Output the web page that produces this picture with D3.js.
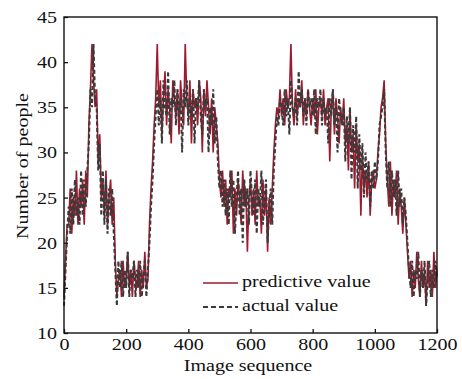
<!DOCTYPE html>
<html>
<head>
<meta charset="utf-8">
<script src="https://cdn.jsdelivr.net/npm/d3@7"></script>
<style>
  body { margin: 0; background: #fff; }
  text { font-family: "Liberation Serif", "Times New Roman", serif; fill: #111; }
</style>
</head>
<body>
<script>
// image sequence step between samples
var seqStep = 5;

// actual number of people (dashed grey), one value every 5 frames from 0 to 1200
var actualValues = [
  13, 17, 21,
  24, 21, 26, 22, 27, 23, 25, 22, 28, 23, 27, 24, 28,
  31, 37, 35, 42, 36,
  35, 28, 31,
  23, 28, 22, 27, 21, 26, 23, 26, 21,
  17, 13, 18,
  15, 18, 14, 17, 15, 19, 14, 17, 16, 18,
  14, 17, 15, 18, 14, 16, 18, 14, 17,
  20, 24, 27, 31, 34,
  37, 33, 36, 31, 38, 35, 34, 39, 32, 36,
  35, 38, 33, 37, 34, 36, 30, 37, 35, 38,
  33, 36, 34, 37, 31, 36, 35, 38, 34, 32,
  37, 35, 36, 30, 35, 33, 37, 31, 34, 29,
  26, 28, 24,
  27, 23, 26, 22, 28, 24, 27, 21, 25, 28,
  23, 26, 20, 27, 24, 26, 22, 28, 25, 23,
  27, 21, 26, 24, 28, 22, 25, 27, 20, 24,
  26,
  22, 28, 31, 34, 33, 36,
  35, 33, 37, 34, 36, 32, 38, 35, 34, 36,
  33, 39, 35, 37, 34, 36, 33, 37, 35, 36,
  34, 37, 32, 36, 35, 37, 33, 36, 34, 35,
  31, 36, 34, 37, 33, 35, 30, 36, 34, 33,
  35, 29, 34, 31, 35, 27, 33, 30, 34, 26,
  32, 28, 31, 25, 30, 27, 29, 24, 28, 26,
  29,
  27, 29, 33, 34, 35, 37, 30,
  26, 29, 24, 28, 25, 27, 23, 28, 24, 26, 22, 25, 23, 20,
  17, 15, 18, 14, 17, 16, 19, 14, 17, 15,
  18, 13, 16, 18, 14, 17, 15, 18, 16
];

// predicted number of people (solid red)
var predictiveValues = [
  14, 18, 22,
  22, 26, 21, 25, 23, 28, 22, 26, 24, 27, 22, 28, 25,
  33, 37, 42, 38, 35,
  37, 29, 32,
  25, 27, 23, 28, 22, 25, 27, 22, 25,
  18, 14, 16,
  17, 14, 18, 15, 16, 19, 15, 17, 14, 18,
  16, 15, 18, 14, 17, 15, 19, 15, 16,
  22, 26, 29, 33, 36,
  42, 35, 38, 32, 36, 39, 33, 37, 35, 31,
  38, 36, 34, 37, 32, 38, 35, 33, 42, 36,
  34, 38, 31, 37, 35, 36, 33, 38, 36, 30,
  37, 34, 38, 35, 32, 36, 30, 35, 33, 31,
  27, 25, 28,
  24, 27, 22, 26, 25, 28, 21, 26, 23, 27,
  25, 22, 28, 24, 26, 19, 25, 27, 23, 26,
  22, 28, 24, 25, 21, 27, 23, 26, 19, 25,
  22,
  26, 30, 33, 35, 34, 37,
  34, 36, 33, 37, 35, 36, 42, 35, 33, 37,
  34, 36, 35, 38, 33, 36, 34, 37, 35, 33,
  36, 34, 37, 32, 35, 36, 34, 37, 33, 35,
  36, 29, 35, 37, 32, 36, 34, 31, 35, 33,
  36, 31, 33, 28, 35, 30, 32, 26, 33, 29,
  31, 23, 30, 26, 28, 25, 29, 23, 27, 28,
  26,
  27, 30, 32, 35, 36, 38, 31,
  27, 24, 29, 23, 27, 25, 28, 22, 26, 24, 21, 25, 22, 19,
  16, 18, 14, 17, 15, 19, 16, 14, 18, 15,
  17, 13, 18, 15, 17, 14, 19, 15, 17
];

var xTicks = [0, 200, 400, 600, 800, 1000, 1200];
var yTicks = [10, 15, 20, 25, 30, 35, 40, 45];
var legendLabels = ["predictive value", "actual value"];

var W = 462, H = 379;
var plotLeft = 64, plotRight = 437, plotTop = 17, plotBottom = 333;
var stretch = 1.18;   // the original serif font is wider than Liberation Serif
var redColor = "#9e1a2e", greyColor = "#3a3a3a";

var svg = d3.select("body").append("svg")
  .attr("width", W)
  .attr("height", H);

var x = d3.scaleLinear().domain([0, 1200]).range([plotLeft, plotRight]);
var y = d3.scaleLinear().domain([10, 45]).range([plotBottom, plotTop]);

var line = d3.line()
  .x(function(d, i) { return x(i * seqStep); })
  .y(function(d) { return y(d); });

// series
svg.append("path")
  .datum(predictiveValues)
  .attr("d", line)
  .attr("fill", "none")
  .attr("stroke", redColor)
  .attr("stroke-width", 1.6);

svg.append("path")
  .datum(actualValues)
  .attr("d", line)
  .attr("fill", "none")
  .attr("stroke", greyColor)
  .attr("stroke-width", 2)
  .attr("stroke-dasharray", "4,2.5");

// axes, ticks pointing inward
var xAxis = svg.append("g")
  .attr("transform", "translate(0," + plotBottom + ")")
  .call(d3.axisBottom(x).tickValues(xTicks).tickFormat(d3.format("d")).tickSize(-4).tickPadding(5));

var yAxis = svg.append("g")
  .attr("transform", "translate(" + plotLeft + ",0)")
  .call(d3.axisLeft(y).tickValues(yTicks).tickFormat(d3.format("d")).tickSize(-4).tickPadding(6));

[xAxis, yAxis].forEach(function(g) {
  g.select(".domain").remove();
  g.selectAll("line").attr("stroke", "#111").attr("stroke-width", 1.3);
  g.selectAll("text")
    .style("font-family", "'Liberation Serif', serif")
    .style("font-size", "17px")
    .attr("fill", "#111")
    .attr("transform", "scale(" + stretch + ",1)");
});

// frame
svg.append("rect")
  .attr("x", plotLeft)
  .attr("y", plotTop)
  .attr("width", plotRight - plotLeft)
  .attr("height", plotBottom - plotTop)
  .attr("fill", "none")
  .attr("stroke", "#111")
  .attr("stroke-width", 1.4);

// axis titles
svg.append("text")
  .attr("transform", "translate(248,371) scale(" + stretch + ",1)")
  .attr("text-anchor", "middle")
  .style("font-size", "17px")
  .text("Image sequence");

svg.append("text")
  .attr("transform", "translate(28,166) rotate(-90) scale(" + stretch + ",1)")
  .attr("text-anchor", "middle")
  .style("font-size", "17px")
  .text("Number of people");

// legend
var legend = svg.append("g");
var legendStyles = [
  { color: redColor, dash: null, width: 1.6 },
  { color: greyColor, dash: "5,3", width: 1.8 }
];

legendLabels.forEach(function(label, i) {
  var ly = 283 + i * 24;
  legend.append("line")
    .attr("x1", 203).attr("x2", 238)
    .attr("y1", ly).attr("y2", ly)
    .attr("stroke", legendStyles[i].color)
    .attr("stroke-width", legendStyles[i].width)
    .attr("stroke-dasharray", legendStyles[i].dash);
  legend.append("text")
    .attr("transform", "translate(242," + (ly + 4) + ") scale(" + stretch + ",1)")
    .style("font-size", "17px")
    .text(label);
});
</script>
</body>
</html>
